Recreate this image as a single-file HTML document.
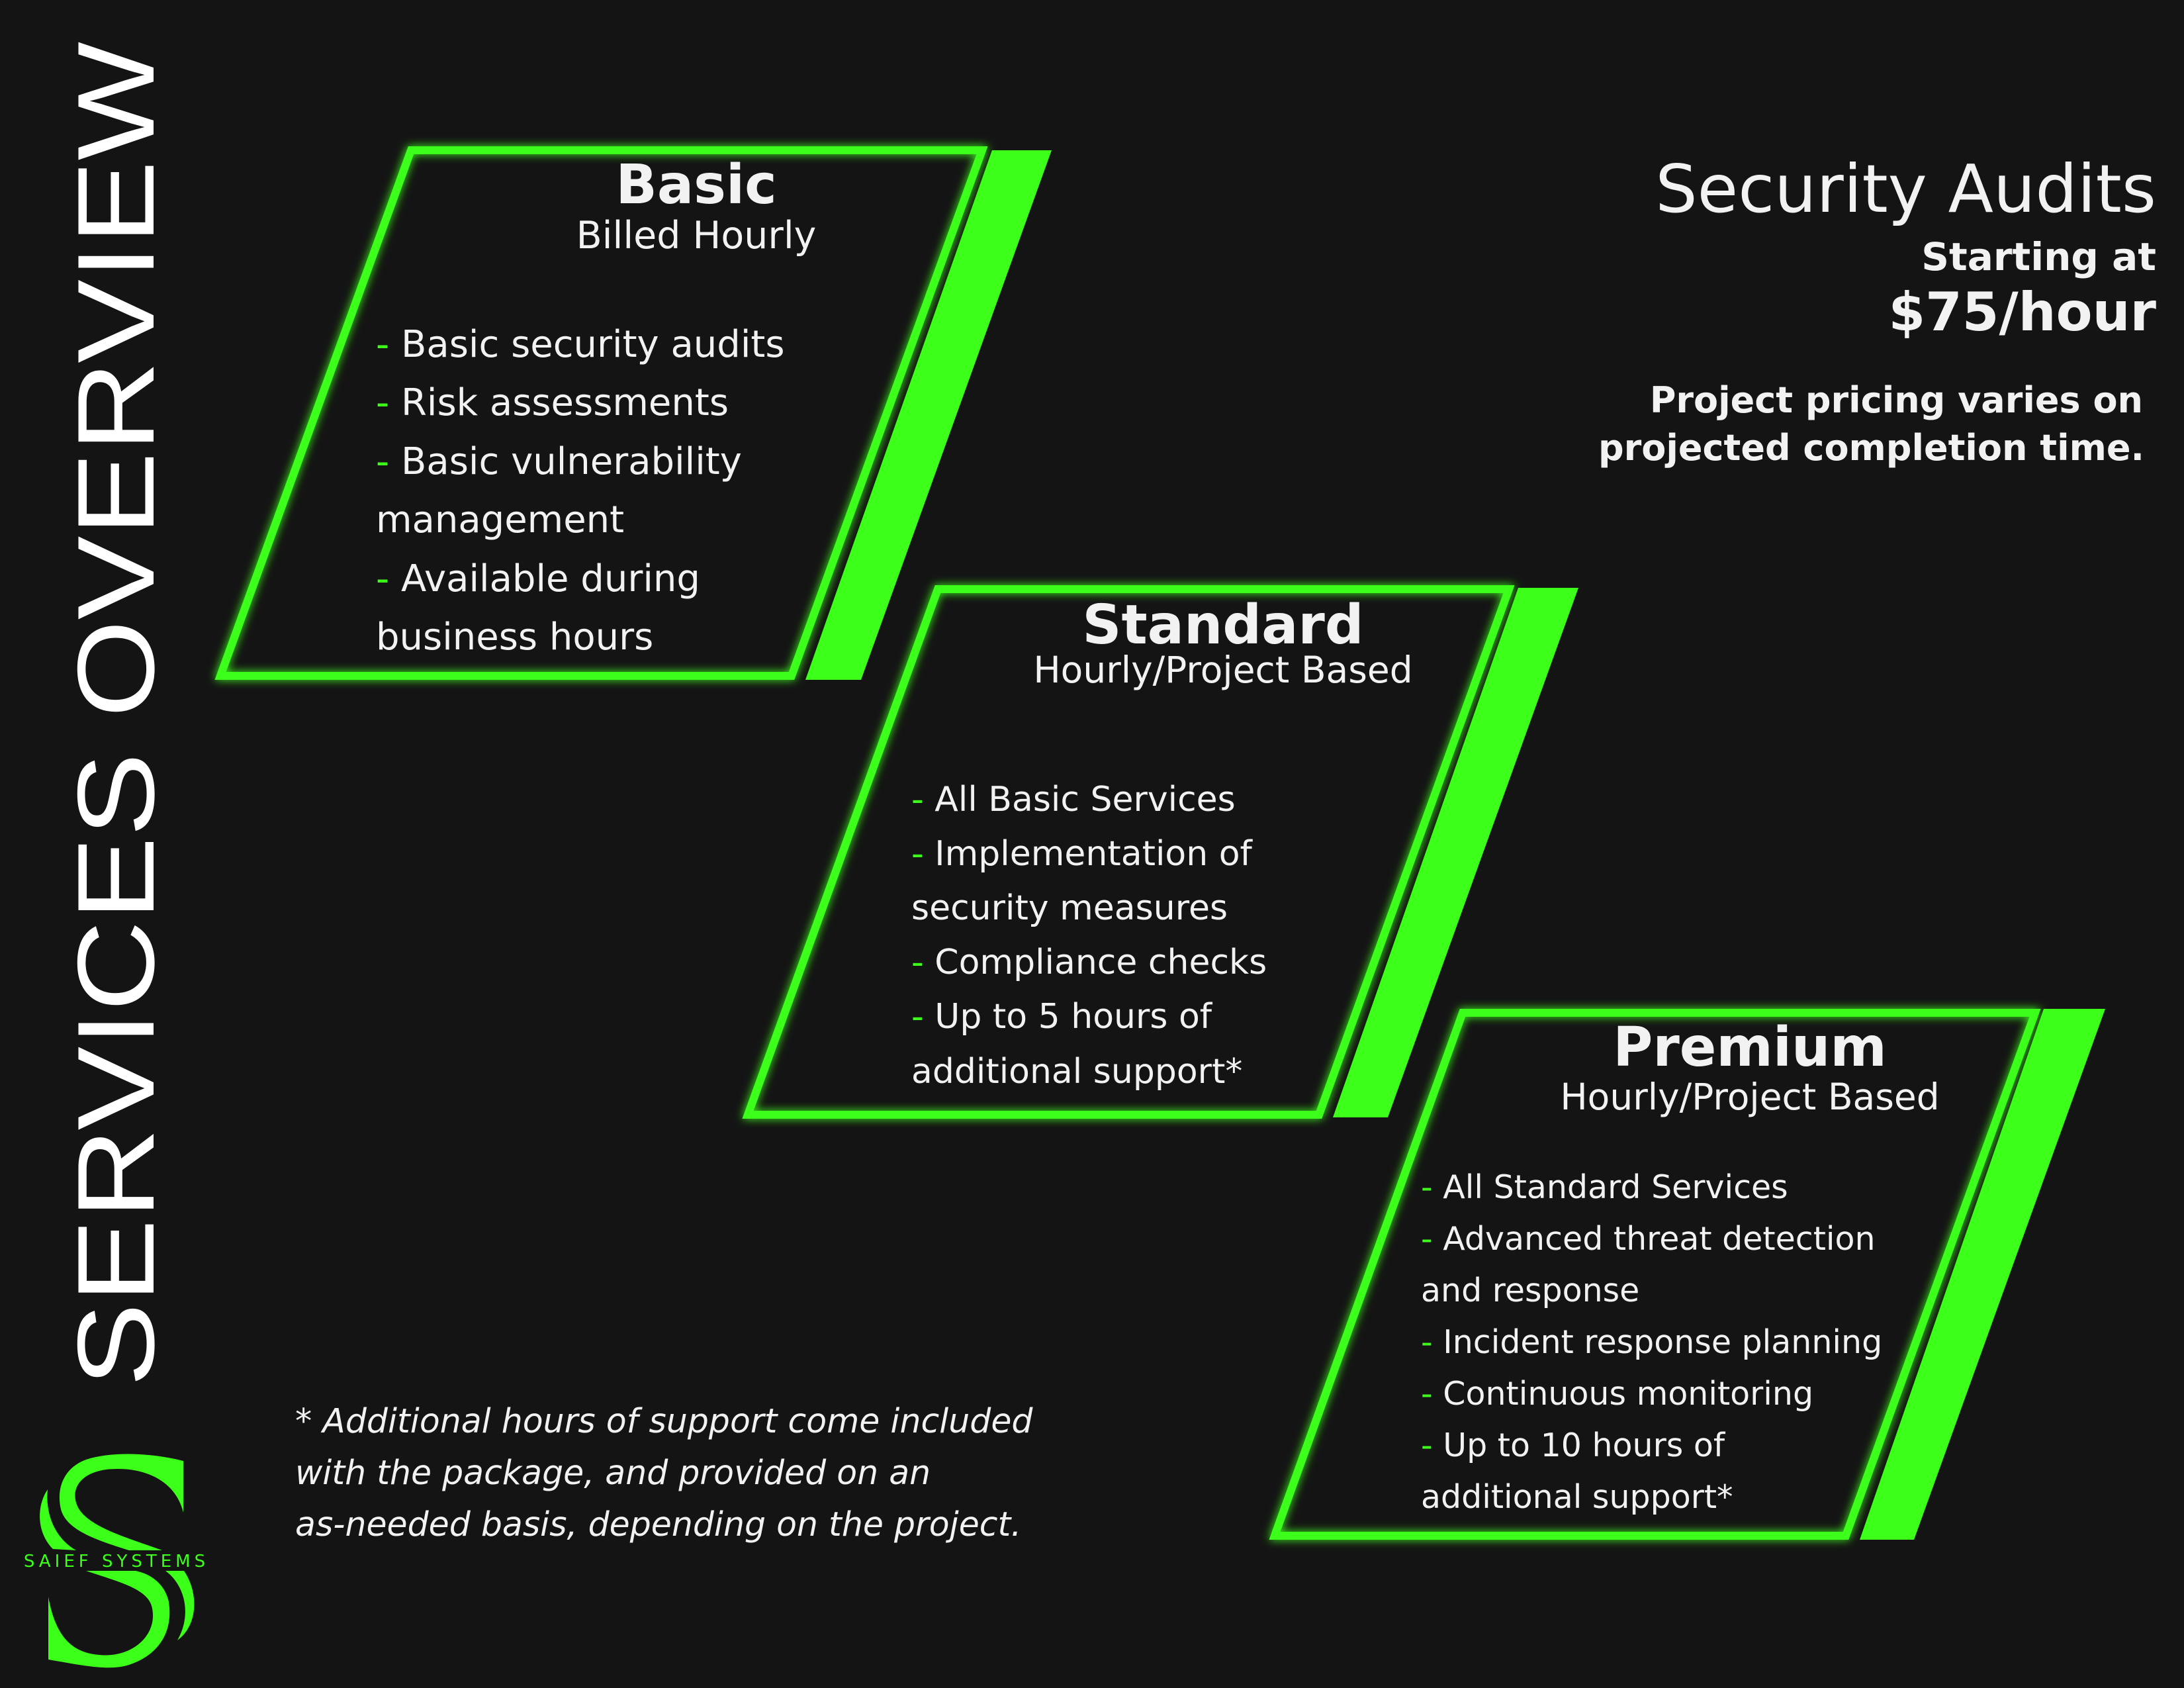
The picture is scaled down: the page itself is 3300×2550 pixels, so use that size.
<!DOCTYPE html>
<html><head><meta charset="utf-8"><style>
html,body{margin:0;padding:0;background:#141414;}
svg{display:block}
text{font-family:"DejaVu Sans","Liberation Sans",sans-serif;fill:#f2f2f2}
</style></head><body>
<svg width="3300" height="2550" viewBox="0 0 3300 2550" xmlns="http://www.w3.org/2000/svg">
<defs>
<filter id="g" x="-10%" y="-10%" width="120%" height="120%">
<feGaussianBlur stdDeviation="7" result="b"/>
<feMerge><feMergeNode in="b"/><feMergeNode in="SourceGraphic"/></feMerge>
</filter>
</defs>
<rect width="3300" height="2550" fill="#141414"/>

<!-- Vertical title -->
<text transform="translate(232,2095) rotate(-90)" font-size="165" font-weight="normal" textLength="2032" lengthAdjust="spacingAndGlyphs" style="font-family:'Liberation Sans',sans-serif;fill:#fff">SERVICES OVERVIEW</text>

<!-- Basic -->
<polygon points="621,227 1484,227 1196,1021 333,1021" fill="none" stroke="#3cff1a" stroke-width="12" filter="url(#g)"/>
<polygon points="1499,227 1589,227 1301,1027 1217,1027" fill="#3cff1a"/>
<text x="1052" y="307" font-size="82" font-weight="bold" text-anchor="middle">Basic</text>
<text x="1052" y="375" font-size="57" text-anchor="middle">Billed Hourly</text>
<g font-size="56">
<text x="568" y="539"><tspan style="fill:#3cff1a">- </tspan>Basic security audits</text>
<text x="568" y="627"><tspan style="fill:#3cff1a">- </tspan>Risk assessments</text>
<text x="568" y="716"><tspan style="fill:#3cff1a">- </tspan>Basic vulnerability</text>
<text x="568" y="804">management</text>
<text x="568" y="893"><tspan style="fill:#3cff1a">- </tspan>Available during</text>
<text x="568" y="981">business hours</text>
</g>

<!-- Standard -->
<polygon points="1417,890 2280,890 1993,1684 1130,1684" fill="none" stroke="#3cff1a" stroke-width="12" filter="url(#g)"/>
<polygon points="2294,888 2385,888 2097,1688 2014,1688" fill="#3cff1a"/>
<text x="1848" y="972" font-size="82" font-weight="bold" text-anchor="middle">Standard</text>
<text x="1848" y="1031" font-size="55" text-anchor="middle">Hourly/Project Based</text>
<g font-size="52">
<text x="1377" y="1225"><tspan style="fill:#3cff1a">- </tspan>All Basic Services</text>
<text x="1377" y="1307"><tspan style="fill:#3cff1a">- </tspan>Implementation of</text>
<text x="1377" y="1389">security measures</text>
<text x="1377" y="1471"><tspan style="fill:#3cff1a">- </tspan>Compliance checks</text>
<text x="1377" y="1553"><tspan style="fill:#3cff1a">- </tspan>Up to 5 hours of</text>
<text x="1377" y="1636">additional support*</text>
</g>

<!-- Premium -->
<polygon points="2210,1530 3075,1530 2789,2320 1926,2320" fill="none" stroke="#3cff1a" stroke-width="12" filter="url(#g)"/>
<polygon points="3088,1524 3181,1524 2892,2326 2810,2326" fill="#3cff1a"/>
<text x="2644" y="1610" font-size="82" font-weight="bold" text-anchor="middle">Premium</text>
<text x="2644" y="1676" font-size="55" text-anchor="middle">Hourly/Project Based</text>
<g font-size="49">
<text x="2147" y="1810"><tspan style="fill:#3cff1a">- </tspan>All Standard Services</text>
<text x="2147" y="1888"><tspan style="fill:#3cff1a">- </tspan>Advanced threat detection</text>
<text x="2147" y="1966">and response</text>
<text x="2147" y="2044"><tspan style="fill:#3cff1a">- </tspan>Incident response planning</text>
<text x="2147" y="2122"><tspan style="fill:#3cff1a">- </tspan>Continuous monitoring</text>
<text x="2147" y="2200"><tspan style="fill:#3cff1a">- </tspan>Up to 10 hours of</text>
<text x="2147" y="2278">additional support*</text>
</g>

<!-- Right header -->
<text x="3258" y="320" font-size="100" text-anchor="end">Security Audits</text>
<text x="3258" y="408" font-size="58" font-weight="bold" text-anchor="end">Starting at</text>
<text x="3258" y="499" font-size="80" font-weight="bold" text-anchor="end">$75/hour</text>
<text x="3238" y="623" font-size="54" font-weight="bold" text-anchor="end">Project pricing varies on</text>
<text x="3240" y="695" font-size="54" font-weight="bold" text-anchor="end">projected completion time.</text>

<!-- Footnote -->
<g font-size="50.5" font-style="italic">
<text x="446" y="2164">* Additional hours of support come included</text>
<text x="446" y="2242">with the package, and provided on an</text>
<text x="446" y="2320">as-needed basis, depending on the project.</text>
</g>

<!-- Logo -->
<g fill="#3cff1a">
<path d="M277,2207 C230,2195 170,2192 130,2205 C95,2218 85,2250 92,2280 C100,2310 140,2325 195,2342 L245,2342 C190,2322 125,2305 115,2270 C108,2245 125,2225 160,2220 C215,2214 265,2235 277,2285 Z"/>
<path d="M72,2250 C55,2275 55,2315 80,2340 L115,2342 C85,2325 68,2290 72,2250 Z"/>
<path d="M130,2373 C180,2390 225,2400 230,2430 C238,2470 200,2505 150,2500 C115,2497 85,2480 73,2412 L73,2507 C120,2515 165,2525 195,2515 C240,2500 262,2465 255,2420 C250,2395 230,2378 205,2373 Z"/>
<path d="M250,2373 C280,2395 290,2440 268,2478 C300,2455 300,2405 278,2373 Z"/>
</g>
<rect x="20" y="2344" width="310" height="28" fill="#141414"/>
<text x="176" y="2367" font-size="26" text-anchor="middle" letter-spacing="6" style="fill:#3cff1a">SAIEF SYSTEMS</text>
</svg>
</body></html>
